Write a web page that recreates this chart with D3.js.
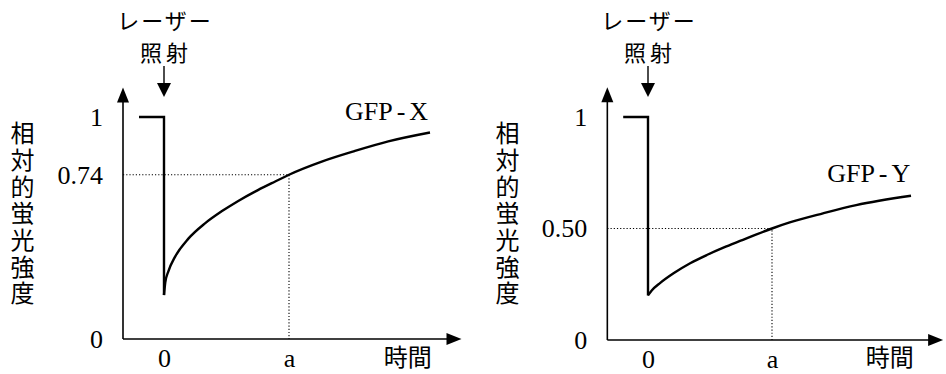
<!DOCTYPE html>
<html>
<head>
<meta charset="utf-8">
<script src="https://cdn.jsdelivr.net/npm/d3@7"></script>
<style>
  html, body { margin: 0; padding: 0; background: #fff; }
  svg { display: block; }
  .num { font-family: "Liberation Serif", "DejaVu Serif", serif; font-size: 26px; fill: #000; }
  .jp { font-family: "Noto Sans CJK JP", sans-serif; font-size: 24px; fill: #000; }
  .vert { writing-mode: vertical-rl; text-orientation: upright; }
</style>
</head>
<body>
<svg id="chart" width="946" height="374"></svg>
<script>
// Recovery of fluorescence after laser bleaching (time in units of a)
const timeX = [0, 0.01, 0.035, 0.088, 0.195, 0.328, 0.461, 0.594, 0.728, 0.862, 1.0, 1.262, 1.528, 1.794, 2.128];
const gfpX  = [0.198, 0.254, 0.305, 0.370, 0.452, 0.521, 0.575, 0.622, 0.664, 0.702, 0.74, 0.799, 0.847, 0.89, 0.93];

const timeY = [0, 0.03, 0.099, 0.206, 0.34, 0.474, 0.608, 0.742, 1.0, 1.143, 1.411, 1.679, 2.121];
const gfpY  = [0.20, 0.222, 0.256, 0.299, 0.344, 0.381, 0.414, 0.444, 0.50, 0.527, 0.568, 0.605, 0.647];

// Intensity before the laser pulse
const preTime = [-0.2, 0];
const preLevel = 1;

// Tick labels
const yTicksX = [0, 0.74, 1];
const yTicksY = [0, 0.50, 1];
const yTickLabelsX = ["0", "0.74", "1"];
const yTickLabelsY = ["0", "0.50", "1"];
const xTicks = [0, 1];
const xTickLabels = ["0", "a"];

// Axis extents in data units
const axisXMin = -0.328, axisXMax = 2.38, axisYMax = 1.133;

const yTitle = "相対的蛍光強度";
const xTitle = "時間";
const laserTitle = ["レーザー", "照射"];

const panels = [
  { name: "GFP-X", t: timeX, v: gfpX, ticks: yTicksX, tickLabels: yTickLabelsX, mark: 0.74,
    xr: [164, 289], yr: [339, 117], titleX: 22.5, nameAt: [1.78, 0.985] },
  { name: "GFP-Y", t: timeY, v: gfpY, ticks: yTicksY, tickLabels: yTickLabelsY, mark: 0.50,
    xr: [648, 772], yr: [340, 117], titleX: 507.5, nameAt: [1.78, 0.708] }
];

const svg = d3.select("#chart");

panels.forEach(p => {
  const x = d3.scaleLinear().domain([0, 1]).range(p.xr);
  const y = d3.scaleLinear().domain([0, 1]).range(p.yr);
  const g = svg.append("g");

  // Axes with arrow heads
  const ax0 = x(axisXMin), ax1 = x(axisXMax), ay0 = y(0), ay1 = y(axisYMax);
  g.append("line").attr("x1", ax0).attr("y1", ay0).attr("x2", ax1 - 12).attr("y2", ay0)
    .attr("stroke", "#000").attr("stroke-width", 1.6);
  g.append("path").attr("d", `M${ax1},${ay0} L${ax1 - 15},${ay0 - 6} L${ax1 - 15},${ay0 + 6} Z`).attr("fill", "#000");
  g.append("line").attr("x1", ax0).attr("y1", ay0).attr("x2", ax0).attr("y2", ay1 + 12)
    .attr("stroke", "#000").attr("stroke-width", 1.6);
  g.append("path").attr("d", `M${ax0},${ay1} L${ax0 - 6},${ay1 + 15} L${ax0 + 6},${ay1 + 15} Z`).attr("fill", "#000");

  // Tick labels via d3 axes (no tick marks, no domain)
  const yAxis = d3.axisLeft(y).tickValues(p.ticks).tickSize(0).tickPadding(20)
    .tickFormat((d, i) => p.tickLabels[i]);
  const ya = g.append("g").attr("transform", `translate(${ax0},0)`).call(yAxis);
  ya.select(".domain").remove();
  ya.selectAll("text").attr("class", "num").attr("font-size", null).attr("font-family", null);

  const xAxis = d3.axisBottom(x).tickValues(xTicks).tickSize(0).tickPadding(10)
    .tickFormat((d, i) => xTickLabels[i]);
  const xa = g.append("g").attr("transform", `translate(0,${ay0})`).call(xAxis);
  xa.select(".domain").remove();
  xa.selectAll("text").attr("class", "num").attr("font-size", null).attr("font-family", null);

  // Dotted guides to the value at time a
  g.append("path")
    .attr("d", `M${ax0},${y(p.mark)} L${x(1)},${y(p.mark)} L${x(1)},${ay0}`)
    .attr("fill", "none").attr("stroke", "#000").attr("stroke-width", 1.1)
    .attr("stroke-dasharray", "1.2,2");

  // Pre-bleach level and drop
  const step = preTime.map(t => [t, preLevel]).concat([[0, p.v[0]]]);
  g.append("path")
    .attr("d", d3.line().x(d => x(d[0])).y(d => y(d[1]))(step))
    .attr("fill", "none").attr("stroke", "#000").attr("stroke-width", 2.4)
    .attr("stroke-linejoin", "miter");

  // Recovery curve
  const pts = p.t.map((t, i) => [t, p.v[i]]);
  g.append("path")
    .attr("d", d3.line().x(d => x(d[0])).y(d => y(d[1])).curve(d3.curveMonotoneX)(pts))
    .attr("fill", "none").attr("stroke", "#000").attr("stroke-width", 2.4);

  // Series name
  const nm = g.append("text").attr("class", "num").attr("text-anchor", "middle")
    .attr("x", x(p.nameAt[0])).attr("y", y(p.nameAt[1]));
  const parts = p.name.split("-");
  nm.append("tspan").text(parts[0]);
  nm.append("tspan").attr("dx", 4).text("-");
  nm.append("tspan").attr("dx", 4).text(parts[1]);

  // Laser annotation (two lines) with down arrow
  const lx = x(0);
  g.append("text").attr("class", "jp").attr("text-anchor", "middle")
    .attr("font-size", 22).style("font-size", "22px")
    .attr("x", lx + 1).attr("y", 29).attr("letter-spacing", 2).text(laserTitle[0]);
  g.append("text").attr("class", "jp").attr("text-anchor", "middle")
    .style("font-size", "22px")
    .attr("x", lx + 2).attr("y", 61).attr("letter-spacing", 4).text(laserTitle[1]);
  g.append("line").attr("x1", lx).attr("y1", 66).attr("x2", lx).attr("y2", 84)
    .attr("stroke", "#000").attr("stroke-width", 1.4);
  g.append("path").attr("d", `M${lx},97 L${lx - 7},83 L${lx + 7},83 Z`).attr("fill", "#000");

  // Vertical y title, one text set top to bottom
  g.append("text").attr("class", "jp vert")
    .attr("x", p.titleX).attr("y", 121).attr("letter-spacing", 2.7)
    .text(yTitle);

  // x title
  g.append("text").attr("class", "jp").attr("text-anchor", "middle")
    .attr("x", x(1.95)).attr("y", 366).text(xTitle);
});
</script>
</body>
</html>
